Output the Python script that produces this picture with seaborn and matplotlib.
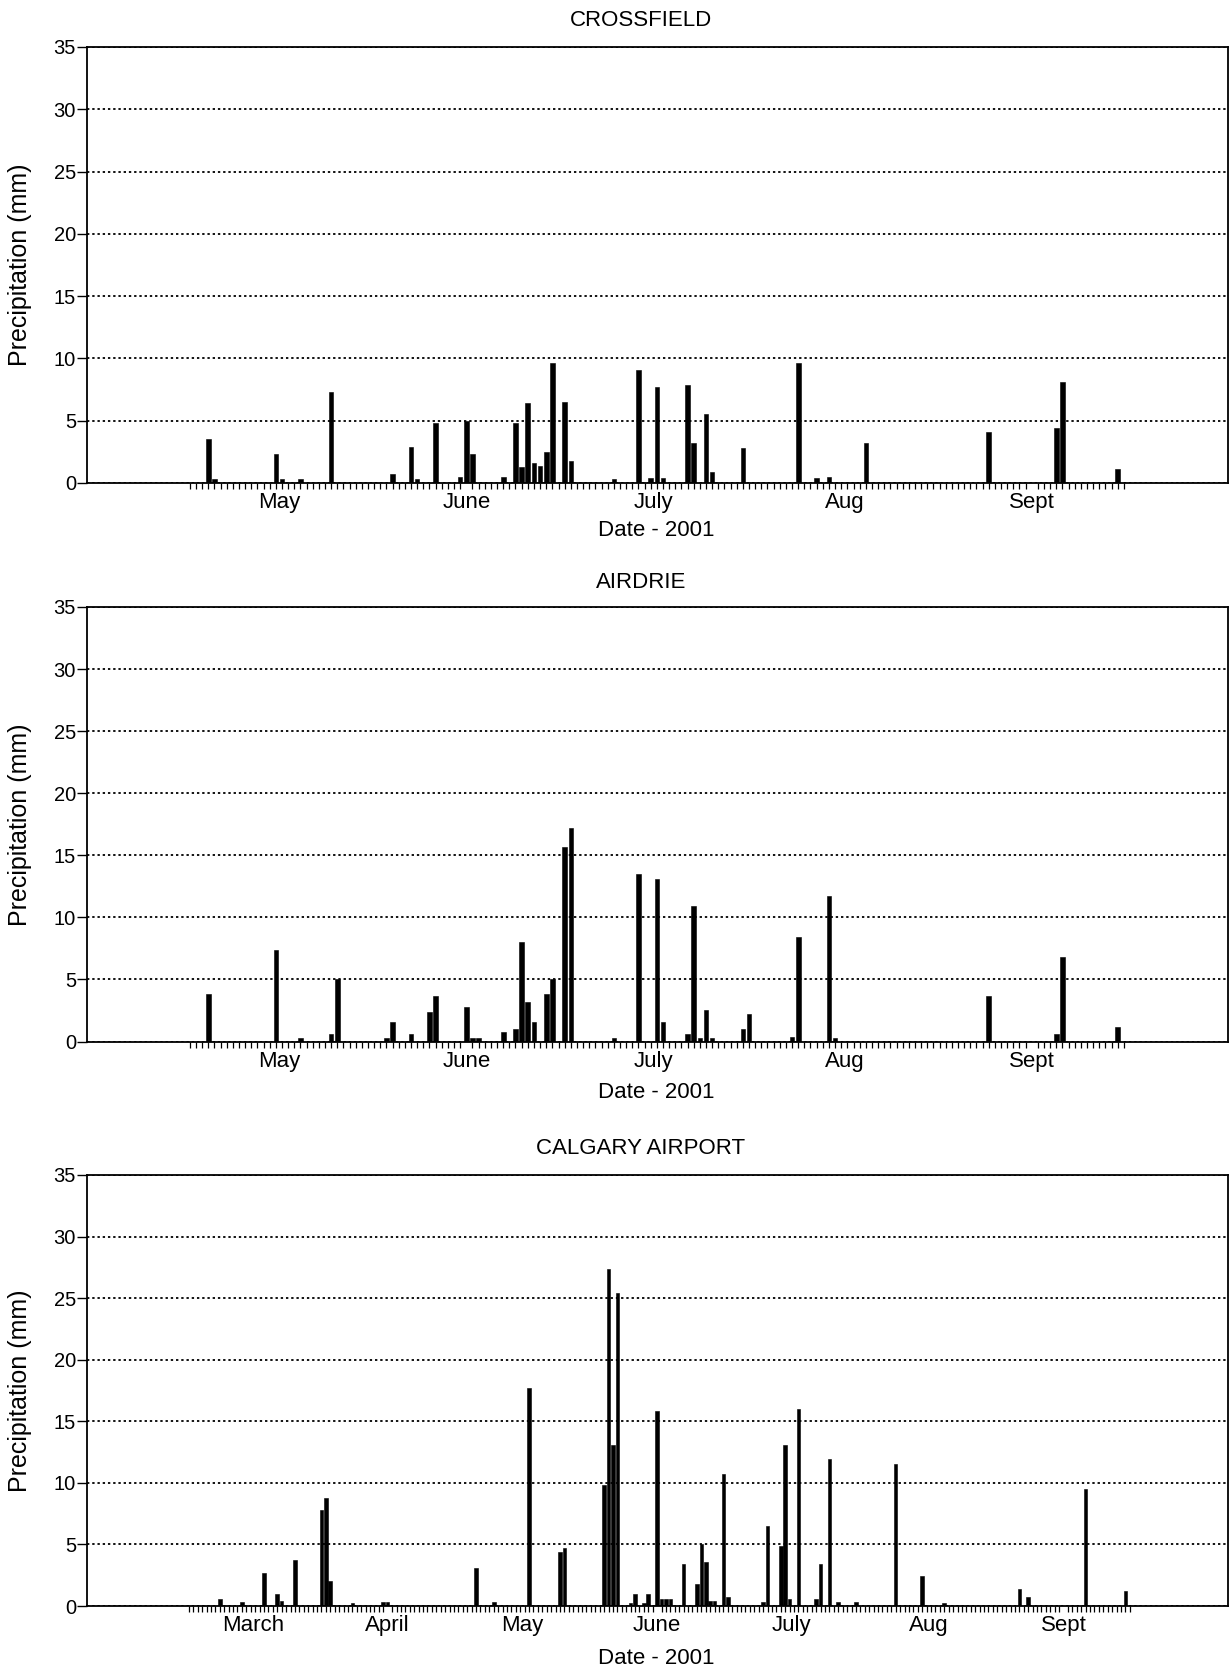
import numpy as np
import pandas as pd
import matplotlib
matplotlib.use("Agg")
import matplotlib.pyplot as plt
import seaborn as sns

# ---------------- data ----------------
# day index counted from the first day of the plotted period
# Crossfield / Airdrie: 1 May 2001 = 0 ; Calgary Airport: 1 March 2001 = 0
crossfield_days = [3, 4, 14, 15, 18, 23, 33, 36, 37, 40, 44, 45, 46, 51, 53, 54, 55, 56,
                   57, 58, 59, 61, 62, 69, 73, 75, 76, 77, 81, 82, 84, 85, 90, 99, 102,
                   104, 110, 130, 141, 142, 151]
crossfield_mm = [3.5, 0.3, 2.3, 0.3, 0.3, 7.3, 0.7, 2.9, 0.3, 4.8, 0.5, 5.0, 2.3, 0.5,
                 4.8, 1.3, 6.4, 1.6, 1.4, 2.5, 9.6, 6.5, 1.8, 0.3, 9.1, 0.4, 7.7, 0.4,
                 7.9, 3.2, 5.5, 0.9, 2.8, 9.6, 0.4, 0.5, 3.2, 4.1, 4.4, 8.1, 1.1]

airdrie_days = [3, 14, 18, 23, 24, 32, 33, 36, 39, 40, 45, 46, 47, 51, 53, 54, 55, 56,
                58, 59, 61, 62, 69, 73, 76, 77, 81, 82, 83, 84, 85, 90, 91, 98, 99, 104,
                105, 130, 141, 142, 151]
airdrie_mm = [3.8, 7.4, 0.3, 0.6, 5.0, 0.3, 1.6, 0.6, 2.4, 3.7, 2.8, 0.3, 0.3, 0.8, 1.0,
              8.0, 3.2, 1.6, 3.8, 5.0, 15.7, 17.2, 0.3, 13.5, 13.1, 1.6, 0.6, 10.9, 0.3,
              2.5, 0.3, 1.0, 2.2, 0.4, 8.4, 11.7, 0.3, 3.7, 0.6, 6.8, 1.2]

calgary_days = [7, 12, 17, 20, 21, 24, 30, 31, 32, 37, 44, 45, 65, 69, 77, 84, 85, 94,
                95, 96, 97, 100, 101, 103, 104, 106, 107, 108, 109, 112, 115, 116, 117,
                118, 119, 121, 122, 130, 131, 134, 135, 136, 138, 142, 143, 145, 147,
                151, 160, 166, 171, 188, 190, 203, 212]
calgary_mm = [0.6, 0.35, 2.7, 1.0, 0.4, 3.7, 7.8, 8.8, 2.0, 0.25, 0.3, 0.3, 3.1, 0.35,
              17.7, 4.35, 4.7, 9.8, 27.4, 13.1, 25.4, 0.27, 1.0, 0.27, 1.0, 15.8, 0.6,
              0.6, 0.6, 3.45, 1.8, 5.0, 3.6, 0.4, 0.4, 10.7, 0.75, 0.3, 6.5, 4.9, 13.1,
              0.6, 16.0, 0.6, 3.45, 11.9, 0.3, 0.3, 11.5, 2.4, 0.27, 1.35, 0.75, 9.5, 1.2]

months_may_sep = ["May", "June", "July", "Aug", "Sept"]
month_len_may_sep = [31, 30, 31, 31, 30]
months_mar_sep = ["March", "April", "May", "June", "July", "Aug", "Sept"]
month_len_mar_sep = [31, 30, 31, 30, 31, 31, 30]

y_ticks = [0, 5, 10, 15, 20, 25, 30, 35]
x_label = "Date - 2001"
y_label = "Precipitation (mm)"

# ---------------- style ----------------
sns.set_theme(style="ticks")
plt.rcParams["font.family"] = ["Liberation Sans", "DejaVu Sans"]
plt.rcParams["axes.edgecolor"] = "black"
plt.rcParams["xtick.color"] = "black"
plt.rcParams["ytick.color"] = "black"
plt.rcParams["text.color"] = "black"

W, H = 1231, 1670
fig = plt.figure(figsize=(W / 100, H / 100), dpi=100)
fig.patch.set_facecolor("white")

ax_left, ax_right = 87, 1228
data_x0 = 186.7  # pixel where the daily tick region starts
panels = [
    # name, days, values, month names, month lengths, top px, bottom px, title y, xlabel y, tick-region end px
    ("CROSSFIELD", crossfield_days, crossfield_mm, months_may_sep, month_len_may_sep, 47, 483, 21, 530, 1127),
    ("AIRDRIE", airdrie_days, airdrie_mm, months_may_sep, month_len_may_sep, 607, 1041.5, 582, 1092, 1127),
    ("CALGARY AIRPORT", calgary_days, calgary_mm, months_mar_sep, month_len_mar_sep, 1175, 1606, 1148, 1658, 1132),
]

for name, days, vals, mnames, mlens, top, bot, ty, xly, data_x1 in panels:
    n = int(np.sum(mlens))
    daily = np.zeros(n)
    daily[np.array(days)] = vals
    df = pd.DataFrame({"day": np.arange(n), "mm": daily})

    ax = fig.add_axes([ax_left / W, 1 - bot / H, (ax_right - ax_left) / W, (bot - top) / H])
    ax.set_facecolor("white")
    width = 0.75 if n < 200 else 0.82
    sns.barplot(data=df, x="day", y="mm", native_scale=True, color="black",
                saturation=1, width=width, errorbar=None, ax=ax,
                edgecolor="black", linewidth=0.4, zorder=3)

    px_per_day = (data_x1 - data_x0) / n
    ax.set_xlim(-0.5 - (data_x0 - ax_left) / px_per_day,
                n - 0.5 + (ax_right - data_x1) / px_per_day)
    ax.set_ylim(0, 35)

    starts = np.concatenate([[0], np.cumsum(mlens)[:-1]])
    mids = starts + np.array(mlens) / 2 - 1
    ax.set_xticks(mids)
    ax.set_xticklabels(mnames, fontsize=16)
    ax.set_xticks(np.arange(n), minor=True)
    ax.tick_params(axis="x", which="major", length=0, pad=6.5)
    ax.tick_params(axis="x", which="minor", length=4.5, width=0.9, direction="out")

    ax.set_yticks(y_ticks)
    ax.set_yticklabels([str(v) for v in y_ticks], fontsize=14.5)
    ax.tick_params(axis="y", which="major", length=7, width=1.0, pad=1, direction="out")

    ax.yaxis.grid(True, linestyle=(0, (1.3, 1.6)), linewidth=1.3, color="black", zorder=0)
    ax.xaxis.grid(False)
    ax.set_axisbelow(True)
    for sp in ax.spines.values():
        sp.set_visible(True)
        sp.set_linewidth(1.3)
        sp.set_color("black")
    ax.set_xlabel("")
    ax.set_ylabel("")

    fig.text(641 / W, 1 - ty / H, name, ha="center", va="center", fontsize=16)
    fig.text(656 / W, 1 - xly / H, x_label, ha="center", va="center", fontsize=16)
    fig.text(20 / W, 1 - (top + bot) / 2 / H, y_label, ha="center", va="center",
             rotation=90, fontsize=18)

fig.savefig("out.png", dpi=100, facecolor="white")
